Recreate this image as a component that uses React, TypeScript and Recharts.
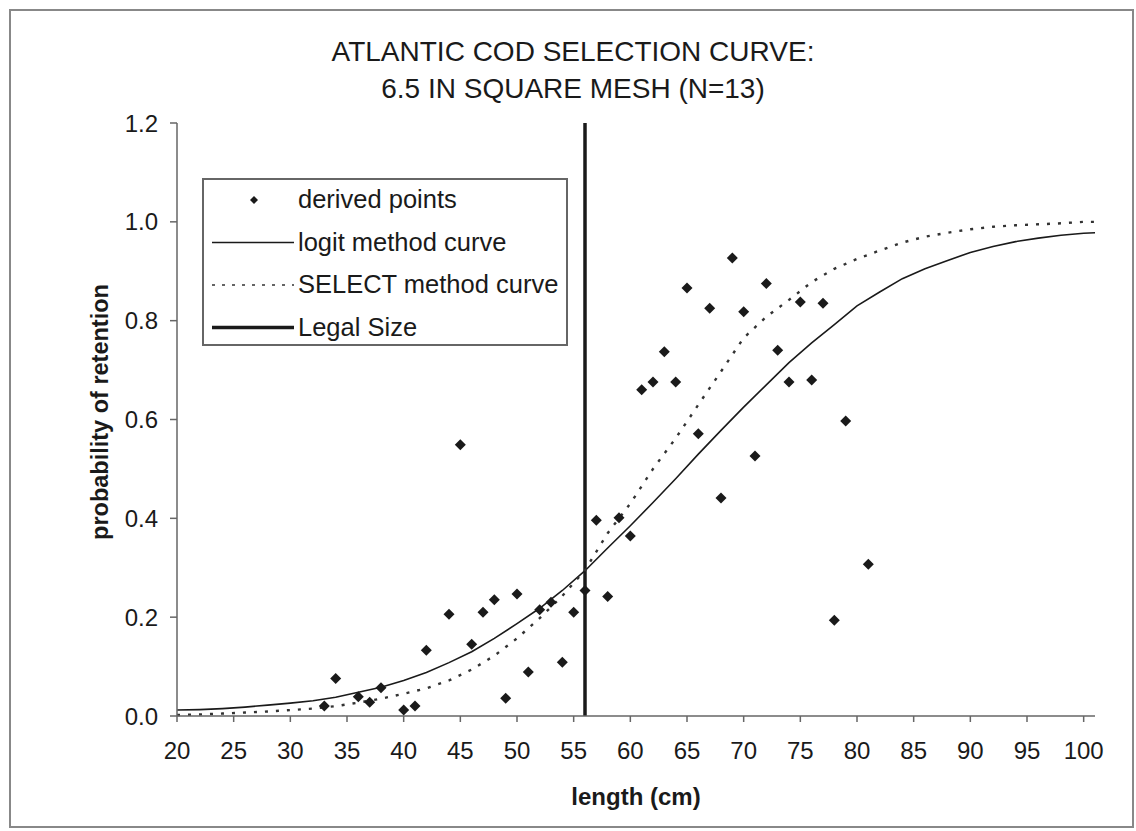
import {
  ComposedChart,
  Line,
  Scatter,
  XAxis,
  YAxis,
  ReferenceLine,
  Legend,
} from "recharts";

// fitted curves, every 2 cm
const curveLengths = [
  20, 22, 24, 26, 28, 30, 32, 34, 36, 38, 40, 42, 44, 46, 48, 50, 52, 54, 56,
  58, 60, 62, 64, 66, 68, 70, 72, 74, 76, 78, 80, 82, 84, 86, 88, 90, 92, 94,
  96, 98, 100, 101,
];
const logitValues = [
  0.012, 0.013, 0.015, 0.018, 0.022, 0.026, 0.031, 0.038, 0.048, 0.058, 0.072,
  0.088, 0.108, 0.13, 0.157, 0.187, 0.218, 0.254, 0.294, 0.34, 0.385, 0.432,
  0.48, 0.53, 0.578, 0.625, 0.67, 0.715, 0.755, 0.792, 0.83, 0.858, 0.885,
  0.905, 0.922, 0.938, 0.95, 0.96, 0.967, 0.973, 0.977, 0.978,
];
const selectValues = [
  0.002, 0.003, 0.005, 0.007, 0.009, 0.012, 0.015, 0.02, 0.027, 0.035, 0.045,
  0.056, 0.072, 0.094, 0.122, 0.157, 0.198, 0.243, 0.295, 0.37, 0.43, 0.5,
  0.562, 0.63, 0.697, 0.765, 0.808, 0.842, 0.878, 0.905, 0.925, 0.942, 0.958,
  0.97, 0.978, 0.985, 0.99, 0.993, 0.995, 0.997, 1.0, 1.0,
];

// derived points
const pointLengths = [
  33, 34, 36, 37, 38, 40, 41, 42, 44, 45, 46, 47, 48, 49, 50, 51, 52, 53, 54,
  55, 56, 57, 58, 59, 60, 61, 62, 63, 64, 65, 66, 67, 68, 69, 70, 71, 72, 73,
  74, 75, 76, 77, 78, 79, 81,
];
const pointValues = [
  0.02, 0.076, 0.039, 0.028, 0.057, 0.012, 0.02, 0.133, 0.206, 0.549, 0.145,
  0.21, 0.235, 0.036, 0.247, 0.089, 0.215, 0.23, 0.109, 0.21, 0.254, 0.396,
  0.242, 0.401, 0.364, 0.66, 0.676, 0.737, 0.676, 0.866, 0.571, 0.825, 0.441,
  0.927, 0.818, 0.526, 0.875, 0.74, 0.676, 0.838, 0.68, 0.835, 0.194, 0.597,
  0.307,
];

const legalSize = 56;
const xTicks = [20, 25, 30, 35, 40, 45, 50, 55, 60, 65, 70, 75, 80, 85, 90, 95, 100];
const yTicks = [0, 0.2, 0.4, 0.6, 0.8, 1.0, 1.2];

const titleLines = ["ATLANTIC COD SELECTION CURVE:", "6.5 IN SQUARE MESH (N=13)"];
const legendLabels = [
  "derived points",
  "logit method curve",
  "SELECT method curve",
  "Legal Size",
];

const logitData = curveLengths.map((x, i) => ({ x, y: logitValues[i] }));
const selectData = curveLengths.map((x, i) => ({ x, y: selectValues[i] }));
const pointData = pointLengths.map((x, i) => ({ x, y: pointValues[i] }));

const font = '"Liberation Sans", Arial, sans-serif';
const ink = "#1a1a1a";

function Diamond(props: any) {
  const { cx, cy } = props;
  const r = 5.5;
  return (
    <polygon
      points={`${cx},${cy - r} ${cx + r},${cy} ${cx},${cy + r} ${cx - r},${cy}`}
      fill={ink}
    />
  );
}

function LegendBox() {
  const rowY = (i: number) => 20 + i * 42.5;
  return (
    <div
      style={{
        position: "relative",
        width: 366,
        height: 168,
        border: "2px solid #666",
        boxSizing: "border-box",
        background: "#fff",
        fontFamily: font,
      }}
    >
      <svg width={362} height={164} style={{ position: "absolute", left: 0, top: 0 }}>
        <polygon points={`50,${rowY(0) - 4} 54,${rowY(0)} 50,${rowY(0) + 4} 46,${rowY(0)}`} fill={ink} />
        <line x1={8} x2={90} y1={rowY(1)} y2={rowY(1)} stroke={ink} strokeWidth={1.5} />
        <line x1={8} x2={90} y1={rowY(2)} y2={rowY(2)} stroke="#333" strokeWidth={1.5} strokeDasharray="3 7" />
        <line x1={8} x2={90} y1={rowY(3)} y2={rowY(3)} stroke={ink} strokeWidth={3.5} />
      </svg>
      {legendLabels.map((label, i) => (
        <div
          key={label}
          style={{
            position: "absolute",
            left: 94,
            top: rowY(i) - 16,
            fontSize: 25.5,
            lineHeight: "30px",
            color: ink,
            whiteSpace: "nowrap",
          }}
        >
          {label}
        </div>
      ))}
    </div>
  );
}

export default function App() {
  return (
    <div style={{ position: "relative", width: 1136, height: 831, background: "#fff", fontFamily: font }}>
      <style>{"body{margin:0}"}</style>
      <div
        style={{
          position: "absolute",
          left: 9,
          top: 9,
          width: 1125,
          height: 819,
          border: "2px solid #888",
          boxSizing: "border-box",
        }}
      />
      {titleLines.map((line, i) => (
        <div
          key={line}
          style={{
            position: "absolute",
            left: 573,
            top: 33 + i * 37,
            transform: "translateX(-50%)",
            fontSize: 28,
            lineHeight: "37px",
            color: ink,
            whiteSpace: "nowrap",
          }}
        >
          {line}
        </div>
      ))}
      <div
        style={{
          position: "absolute",
          left: 100,
          top: 412,
          transform: "translate(-50%, -50%) rotate(-90deg)",
          fontSize: 23.5,
          fontWeight: "bold",
          color: ink,
          whiteSpace: "nowrap",
        }}
      >
        probability of retention
      </div>
      <div
        style={{
          position: "absolute",
          left: 636,
          top: 797,
          transform: "translate(-50%, -50%)",
          fontSize: 24,
          fontWeight: "bold",
          color: ink,
          whiteSpace: "nowrap",
        }}
      >
        length (cm)
      </div>
      <div style={{ position: "absolute", left: 0, top: 0 }}>
        <ComposedChart
          width={1136}
          height={831}
          margin={{ top: 123, right: 41, bottom: 55, left: 97 }}
        >
          <XAxis
            type="number"
            dataKey="x"
            domain={[20, 101]}
            ticks={xTicks}
            height={60}
            tickSize={6}
            tickMargin={20}
            stroke="#666"
            strokeWidth={1.5}
            tick={{ fontSize: 24, fill: ink, fontFamily: font }}
            allowDuplicatedCategory={false}
          />
          <YAxis
            type="number"
            dataKey="y"
            domain={[0, 1.2]}
            ticks={yTicks}
            width={80}
            tickSize={7}
            tickMargin={12}
            stroke="#666"
            strokeWidth={1.5}
            tickFormatter={(v: number) => v.toFixed(1)}
            tick={{ fontSize: 24, fill: ink, fontFamily: font }}
          />
          <ReferenceLine x={legalSize} stroke={ink} strokeWidth={3.5} />
          <Line
            data={logitData}
            dataKey="y"
            type="linear"
            stroke={ink}
            strokeWidth={1.6}
            dot={false}
            isAnimationActive={false}
          />
          <Line
            data={selectData}
            dataKey="y"
            type="linear"
            stroke="#333"
            strokeWidth={2.4}
            strokeDasharray="3 8"
            dot={false}
            isAnimationActive={false}
          />
          <Scatter data={pointData} dataKey="y" shape={Diamond} isAnimationActive={false} />
          <Legend
            layout="vertical"
            align="center"
            verticalAlign="middle"
            wrapperStyle={{ left: 202, top: 178, width: 366, height: 168 }}
            content={() => <LegendBox />}
          />
        </ComposedChart>
      </div>
    </div>
  );
}
